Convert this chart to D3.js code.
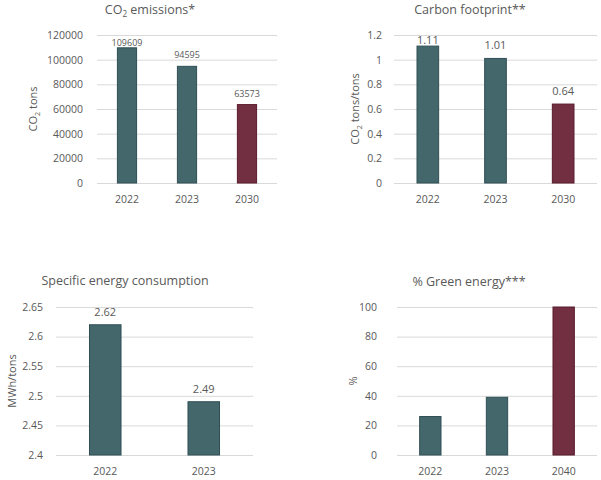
<!DOCTYPE html>
<html>
<head>
<meta charset="utf-8">
<script src="https://cdn.jsdelivr.net/npm/d3@7"></script>
<style>
  body { margin: 0; background: #fff; }
  text { font-family: "Open Sans", sans-serif; fill: #595959; }
</style>
</head>
<body>
<div id="chart"></div>
<script>
/* DATA */
const emissionYears = ["2022", "2023", "2030"];
const emissionValues = [109609, 94595, 63573];
const emissionTicks = [0, 20000, 40000, 60000, 80000, 100000, 120000];

const footprintYears = ["2022", "2023", "2030"];
const footprintValues = [1.11, 1.01, 0.64];
const footprintTicks = [0, 0.2, 0.4, 0.6, 0.8, 1, 1.2];

const energyYears = ["2022", "2023"];
const energyValues = [2.62, 2.49];
const energyTicks = [2.4, 2.45, 2.5, 2.55, 2.6, 2.65];

const greenYears = ["2022", "2023", "2040"];
const greenValues = [26, 39, 100];
const greenTicks = [0, 20, 40, 60, 80, 100];

// years that are targets, drawn in the second colour
const targetYears = ["2030", "2040"];

/* CONSTANTS */
const width = 601,
  height = 480,
  barColor = "#44676c",
  barStroke = "#2e4f54",
  targetColor = "#732f42",
  targetStroke = "#5a1a2d",
  gridColor = "#d9d9d9";

// layout of the four panels
const panels = [
  {
    years: emissionYears, values: emissionValues, ticks: emissionTicks,
    title: ["CO", "2", " emissions*"], ylabel: ["CO", "2", " tons"],
    x0: 97, x1: 277, top: 35, bottom: 183, titleX: 150, titleY: 14,
    tickPad: 14, ylabelX: 33, labelSize: 9, labelGap: 8, labelMin: 45.5, showLabels: true,
    fmt: d3.format("d")
  },
  {
    years: footprintYears, values: footprintValues, ticks: footprintTicks,
    title: ["Carbon footprint**"], ylabel: ["CO", "2", " tons/tons"],
    x0: 394, x1: 597, top: 35, bottom: 183, titleX: 470, titleY: 14,
    tickPad: 12, ylabelX: 355, labelSize: 11, labelGap: 9, labelMin: 43.5, showLabels: true,
    fmt: d => String(d)
  },
  {
    years: energyYears, values: energyValues, ticks: energyTicks,
    title: ["Specific energy consumption"], ylabel: ["MWh/tons"],
    x0: 56, x1: 253, top: 307, bottom: 455, titleX: 125, titleY: 285,
    tickPad: 13, ylabelX: 12, labelSize: 11, labelGap: 9, labelMin: 316, showLabels: true,
    fmt: d => String(d)
  },
  {
    years: greenYears, values: greenValues, ticks: greenTicks,
    title: ["% Green energy***"], ylabel: ["%"],
    x0: 397, x1: 597, top: 307, bottom: 455, titleX: 469, titleY: 286,
    tickPad: 20, ylabelX: 353, labelSize: 11, labelGap: 9, labelMin: 316, showLabels: false,
    fmt: d3.format("d")
  }
];

const svg = d3.select("#chart")
  .append("svg")
  .attr("width", width)
  .attr("height", height);

// writes text parts, where the second part is a subscript
function writeParts(textSel, parts, size) {
  parts.forEach((p, i) => {
    const t = textSel.append("tspan").text(p);
    if (parts.length > 1 && i === 1) {
      t.attr("font-size", size * 0.65).attr("dy", size * 0.25);
    } else if (parts.length > 1 && i === 2) {
      t.attr("dy", -size * 0.25);
    }
  });
}

panels.forEach(p => {
  const g = svg.append("g");

  const xScale = d3.scaleBand()
    .domain(p.years)
    .range([p.x0, p.x1])
    .paddingInner(0.68)
    .paddingOuter(0.34);

  const yScale = d3.scaleLinear()
    .domain([p.ticks[0], p.ticks[p.ticks.length - 1]])
    .range([p.bottom, p.top]);

  // y axis with gridlines
  const yAxis = d3.axisLeft(yScale)
    .tickValues(p.ticks)
    .tickFormat(p.fmt)
    .tickSizeInner(-(p.x1 - p.x0))
    .tickSizeOuter(0)
    .tickPadding(p.tickPad);

  g.append("g")
    .attr("transform", `translate(${p.x0},0)`)
    .call(yAxis)
    .call(a => a.select(".domain").remove())
    .call(a => a.selectAll("line").attr("stroke", gridColor).attr("stroke-width", 1))
    .call(a => a.selectAll("text")
      .attr("font-family", "Open Sans, sans-serif")
      .attr("font-size", 10.5)
      .attr("fill", "#595959"));

  const rows = p.years.map((y, i) => ({ year: y, value: p.values[i] }));

  // bars
  g.selectAll("rect")
    .data(rows)
    .join("rect")
    .attr("x", d => xScale(d.year))
    .attr("y", d => yScale(d.value))
    .attr("width", xScale.bandwidth())
    .attr("height", d => yScale(p.ticks[0]) - yScale(d.value))
    .attr("fill", d => targetYears.includes(d.year) ? targetColor : barColor)
    .attr("stroke", d => targetYears.includes(d.year) ? targetStroke : barStroke)
    .attr("stroke-width", 1);

  // value labels
  if (p.showLabels) {
    g.selectAll(".value-label")
      .data(rows)
      .join("text")
      .attr("class", "value-label")
      .attr("x", d => xScale(d.year) + xScale.bandwidth() / 2)
      .attr("y", d => Math.max(yScale(d.value) - p.labelGap, p.labelMin))
      .attr("text-anchor", "middle")
      .attr("font-size", p.labelSize)
      .text(d => d.value);
  }

  // x axis labels
  const xAxis = d3.axisBottom(xScale).tickSize(0).tickPadding(13);
  g.append("g")
    .attr("transform", `translate(0,${p.bottom})`)
    .call(xAxis)
    .call(a => a.select(".domain").remove())
    .call(a => a.selectAll("text")
      .attr("font-family", "Open Sans, sans-serif")
      .attr("font-size", 10.5)
      .attr("fill", "#595959"));

  // title
  const title = g.append("text")
    .attr("x", p.titleX)
    .attr("y", p.titleY)
    .attr("text-anchor", "middle")
    .attr("font-size", 12.5);
  writeParts(title, p.title, 12.5);

  // y axis label
  const ylab = g.append("text")
    .attr("transform", `translate(${p.ylabelX},${(p.top + p.bottom) / 2}) rotate(-90)`)
    .attr("text-anchor", "middle")
    .attr("dy", "0.35em")
    .attr("font-size", 11);
  writeParts(ylab, p.ylabel, 11);
});
</script>
</body>
</html>
